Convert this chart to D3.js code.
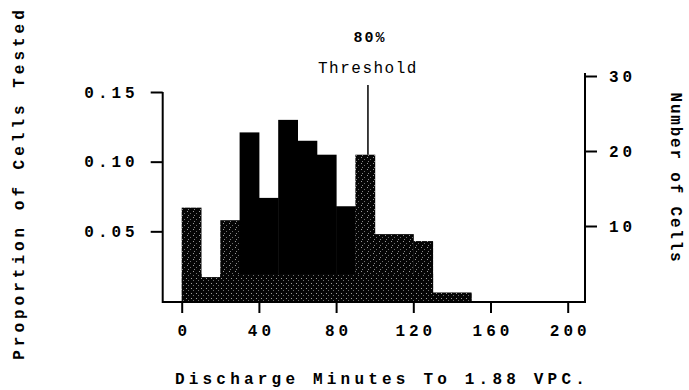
<!DOCTYPE html>
<html>
<head>
<meta charset="utf-8">
<script src="https://cdn.jsdelivr.net/npm/d3@7/dist/d3.min.js"></script>
<style>
  body { margin: 0; background: #fff; }
  text { font-family: "Liberation Mono", "DejaVu Sans Mono", monospace; fill: #000; }
</style>
</head>
<body>
<div id="chart"></div>
<script>
'use strict';

// histogram bins (minutes) and proportion of cells in each bin
var binStart = [0, 10, 20, 30, 40, 50, 60, 70, 80, 90, 100, 110, 120, 130, 140];
var binWidth = 10;
var proportion = [0.067, 0.017, 0.058, 0.121, 0.074, 0.130, 0.115, 0.105, 0.068, 0.105, 0.048, 0.048, 0.043, 0.006, 0.006];
// 'k' = solid black, 's' = stippled
var shade = ['s', 's', 's', 'k', 'k', 'k', 'k', 'k', 'k', 's', 's', 's', 's', 's', 's'];

var xTicks = [0, 40, 80, 120, 160, 200];
var propTicks = [0.05, 0.10, 0.15];
var countTicks = [10, 20, 30];
var threshold = 96.5;

var width = 689, height = 390;

var svg = d3.select('#chart')
    .append('svg')
        .attr('width', width)
        .attr('height', height);

var defs = svg.append('defs');

function makePattern(id, size, dots) {
    var p = defs.append('pattern')
        .attr('id', id)
        .attr('width', size)
        .attr('height', size)
        .attr('patternUnits', 'userSpaceOnUse');
    p.append('rect').attr('width', size).attr('height', size).attr('fill', '#050505');
    dots.forEach(function (d) {
        p.append('rect').attr('x', d[0]).attr('y', d[1]).attr('width', 1).attr('height', 1).attr('fill', d[2]);
    });
}
makePattern('stipple', 6, [[1, 1, '#9a9a9a'], [4, 3, '#6e6e6e'], [2, 5, '#858585']]);
makePattern('speck', 5, [[1, 3, '#a0a0a0'], [3, 0, '#707070']]);

var x = d3.scaleLinear().domain([0, 200]).range([181.7, 567.7]);
var yProp = d3.scaleLinear().domain([0, 0.15]).range([301, 92]);
var yCount = d3.scaleLinear().domain([0, 30]).range([301, 76]);

var data = binStart.map(function (d, i) {
    return { x0: d, x1: d + binWidth, p: proportion[i], s: shade[i] };
});

var bars = svg.append('g');
bars.selectAll('rect')
    .data(data)
    .enter()
    .append('rect')
    .attr('x', d => x(d.x0))
    .attr('y', d => yProp(d.p))
    .attr('width', d => x(d.x1) - x(d.x0) + 0.5)
    .attr('height', d => yProp(0) - yProp(d.p))
    .attr('fill', d => d.s === 'k' ? '#000' : 'url(#stipple)');

// speckled band along the bottom of the bars
defs.append('clipPath').attr('id', 'barclip')
    .selectAll('rect')
    .data(data)
    .enter()
    .append('rect')
    .attr('x', d => x(d.x0))
    .attr('y', d => yProp(d.p))
    .attr('width', d => x(d.x1) - x(d.x0) + 0.5)
    .attr('height', d => yProp(0) - yProp(d.p));
svg.append('rect')
    .attr('clip-path', 'url(#barclip)')
    .attr('x', x(0))
    .attr('y', 274)
    .attr('width', x(150) - x(0))
    .attr('height', yProp(0) - 274)
    .attr('fill', 'url(#speck)');

// frame: bottom line + left and right axes
var axisStyle = function (g) {
    g.select('.domain').remove();
    g.selectAll('.tick line').attr('stroke', '#000').attr('stroke-width', 2);
    g.selectAll('.tick text')
        .style('font-size', '16px')
        .style('font-weight', 'bold')
        .attr('letter-spacing', '4px');
};

svg.append('line')
    .attr('x1', 162.7).attr('x2', 585)
    .attr('y1', 302).attr('y2', 302)
    .attr('stroke', '#000').attr('stroke-width', 2);
svg.append('line')
    .attr('x1', 162.7).attr('x2', 162.7)
    .attr('y1', yProp(0.15)).attr('y2', 303)
    .attr('stroke', '#000').attr('stroke-width', 2);
svg.append('line')
    .attr('x1', 585).attr('x2', 585)
    .attr('y1', yCount(30) - 3).attr('y2', 303)
    .attr('stroke', '#000').attr('stroke-width', 2);

svg.append('g')
    .attr('transform', 'translate(162.7,0)')
    .call(d3.axisLeft(yProp).tickValues(propTicks).tickFormat(d3.format('.2f')).tickSize(12).tickPadding(12))
    .call(axisStyle);

svg.append('g')
    .attr('transform', 'translate(585,0)')
    .call(d3.axisRight(yCount).tickValues(countTicks).tickSize(12).tickPadding(12))
    .call(axisStyle);

svg.append('g')
    .attr('transform', 'translate(0,302)')
    .call(d3.axisBottom(x).tickValues(xTicks).tickSize(11).tickPadding(12))
    .call(axisStyle)
    .selectAll('.tick text').attr('dx', '2px');

// threshold marker
svg.append('line')
    .attr('x1', x(threshold)).attr('x2', x(threshold))
    .attr('y1', 85).attr('y2', yProp(0.105))
    .attr('stroke', '#000').attr('stroke-width', 1.5);
svg.append('text')
    .attr('x', x(threshold) + 2).attr('y', 42)
    .attr('text-anchor', 'middle')
    .style('font-size', '15px')
    .style('font-weight', 'bold')
    .attr('letter-spacing', '2px')
    .text('80%');
svg.append('text')
    .attr('x', x(threshold)).attr('y', 73)
    .attr('text-anchor', 'middle')
    .style('font-size', '16px')
    .attr('letter-spacing', '1.5px')
    .text('Threshold');

// axis titles
svg.append('text')
    .attr('x', 382).attr('y', 384)
    .attr('text-anchor', 'middle')
    .style('font-size', '16px')
    .style('font-weight', 'bold')
    .attr('letter-spacing', '4.2px')
    .text('Discharge Minutes To 1.88 VPC.');

svg.append('text')
    .attr('transform', 'translate(24,183) rotate(-90)')
    .attr('text-anchor', 'middle')
    .style('font-size', '16px')
    .style('font-weight', 'bold')
    .attr('letter-spacing', '4px')
    .text('Proportion of Cells Tested');

svg.append('text')
    .attr('transform', 'translate(671,178) rotate(90)')
    .attr('text-anchor', 'middle')
    .style('font-size', '16px')
    .style('font-weight', 'bold')
    .attr('letter-spacing', '1.8px')
    .text('Number of Cells');
</script>
</body>
</html>
